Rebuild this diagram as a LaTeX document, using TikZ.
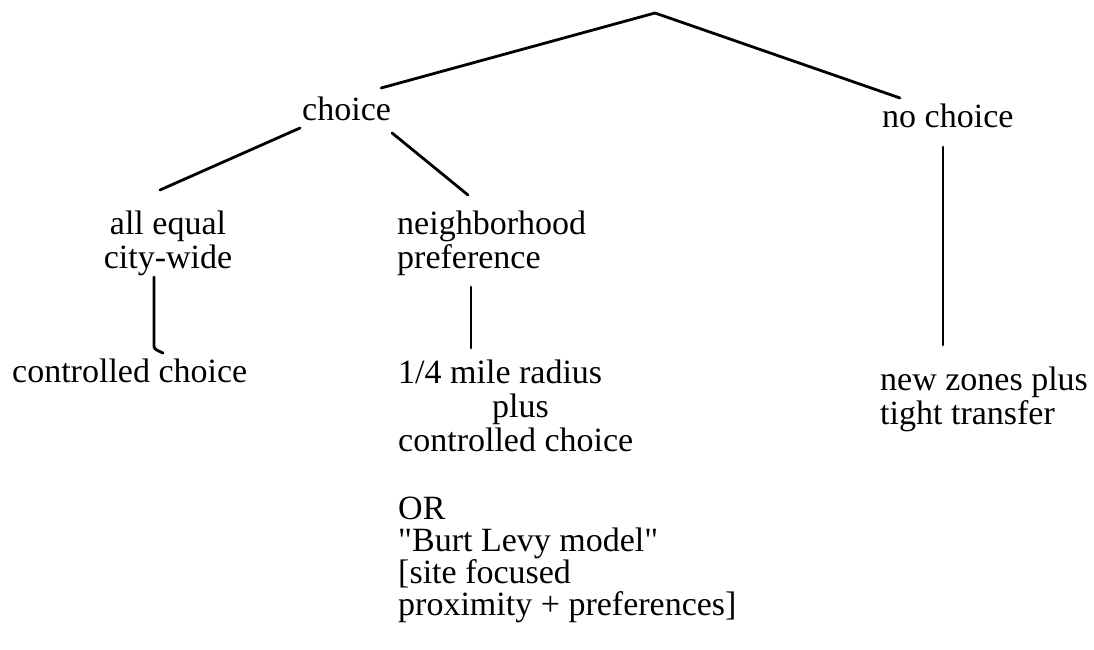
\documentclass[tikz,border=0pt]{standalone}
\usepackage{fontspec}
\setmainfont{Liberation Serif}
\newfontfamily\plainq{Liberation Serif}
\begin{document}
\begin{tikzpicture}[x=1pt,y=-1pt,
  br/.style={line width=2.8pt, line cap=round},
  lbl/.style={inner sep=0pt, font=\fontsize{34}{34}\selectfont}]
\useasboundingbox[fill=white] (0,0) rectangle (1094,649);
\coordinate (root) at (655,13);
\node[lbl, anchor=base west] (choice) at (302,120) {choice};
\node[lbl, anchor=base west] (nochoice) at (882,127) {no choice};
\node[lbl, align=center, anchor=north] (alleq) at (168,204) {\rule{0pt}{30pt}all equal\\city-wide};
\node[lbl, align=left, anchor=north west] (neigh) at (397,204) {\rule{0pt}{30pt}neighborhood\\preference};
\node[lbl, anchor=base west] (ctrl) at (12,382) {controlled choice};
\node[lbl, align=left, anchor=north west] (quarter) at (398,353) {\rule{0pt}{30pt}1/4 mile radius\\\hspace*{94pt}plus\\controlled choice\\[34pt]OR\\[-2pt]{\plainq"}Burt Levy model{\plainq"}\\[-2pt]{[}site focused\\[-2pt]proximity + preferences{]}};
\node[lbl, align=left, anchor=north west] (newz) at (880,360) {\rule{0pt}{30pt}new zones plus\\tight transfer};
\draw[br] (root) -- ([shift={(-10,-32)}]choice.base east);
\draw[br] (root) -- ([shift={(18,-29)}]nochoice.base west);
\draw[br] ([shift={(-2,8)}]choice.base west) -- ([shift={(-8,-14)}]alleq.north);
\draw[br] ([shift={(1,13)}]choice.base east) -- ([shift={(71,-9)}]neigh.north west);
\draw[br] ([shift={(-14,73)}]alleq.north) -- ([shift={(142,-38)}]ctrl.base west) .. controls ([shift={(142,-33)}]ctrl.base west) .. ([shift={(151,-29)}]ctrl.base west);
\draw[br] ([shift={(74,83)}]neigh.north west) -- ([shift={(73,-5)}]quarter.north west);
\draw[br] ([shift={(61,20)}]nochoice.base west) -- ([shift={(63,-15)}]newz.north west);
\end{tikzpicture}
\end{document}
